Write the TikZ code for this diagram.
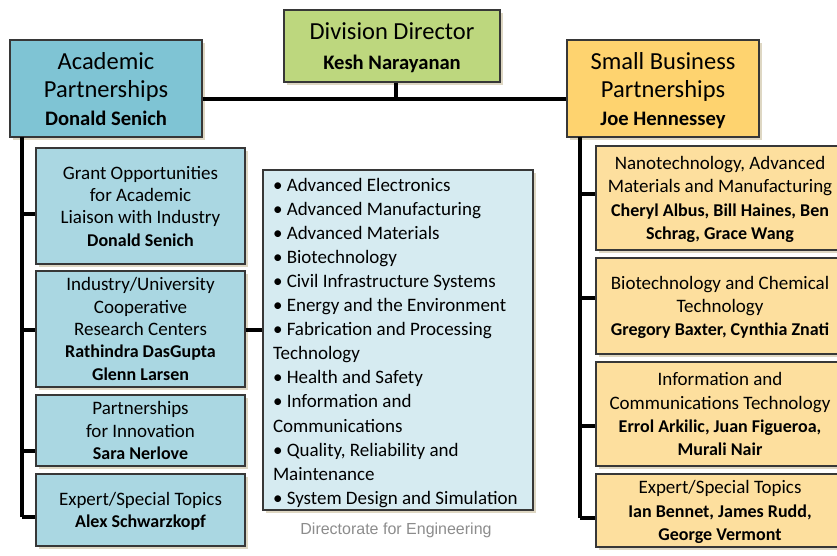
\documentclass[tikz,border=0pt]{standalone}
\usepackage{fontspec}
\setmainfont{Carlito}
\newfontfamily\capfont{Liberation Sans}
\usetikzlibrary{calc}

\definecolor{dirgreen}{RGB}{189,215,126}
\definecolor{acadblue}{RGB}{127,196,212}
\definecolor{acadsub}{RGB}{170,215,226}
\definecolor{listblue}{RGB}{214,235,241}
\definecolor{sbizgold}{RGB}{254,211,111}
\definecolor{sbizsub}{RGB}{253,223,158}
\definecolor{shadebeige}{RGB}{222,215,195}
\definecolor{boxline}{RGB}{55,55,55}
\definecolor{capgray}{RGB}{140,140,140}

\tikzset{
  box/.style={draw=boxline, line width=1.2pt, align=center, inner sep=2pt,
    text depth=0pt,
    preaction={fill=shadebeige, transform canvas={shift={(3pt,-3pt)}}}},
  headbox/.style={box, minimum width=192pt, minimum height=97pt,
    font=\fontsize{24.5}{28}\selectfont},
  acadbox/.style={box, fill=acadsub, minimum width=209pt,
    font=\fontsize{19}{22.3}\selectfont},
  sbizbox/.style={box, fill=sbizsub, minimum width=248pt,
    font=\fontsize{19}{23.2}\selectfont},
  conn/.style={line width=4pt},
}
\newcommand{\who}[1]{{\fontsize{20.6}{24}\selectfont\bfseries #1}}
\newcommand{\subwho}[1]{{\fontsize{18}{21}\selectfont\bfseries #1}}

\begin{document}
\begin{tikzpicture}[x=1pt, y=-1pt]
\useasboundingbox (0,0) rectangle (837,556);

% head boxes
\node[box, fill=dirgreen, minimum width=216pt, minimum height=72pt,
  font=\fontsize{24.5}{30}\selectfont] (dir) at (392,46)
  {Division Director\\\who{Kesh Narayanan}};
\node[headbox, fill=acadblue] (acad) at (106,88.5)
  {Academic\\Partnerships\\\who{Donald Senich}};
\node[headbox, fill=sbizgold] (sbiz) at (663,88.5)
  {Small Business\\Partnerships\\\who{Joe Hennessey}};

% academic side
\node[acadbox, minimum height=116pt] (g1) at (140.5,206)
  {Grant Opportunities\\for Academic\\Liaison with Industry\\\subwho{Donald Senich}};
\node[acadbox, minimum height=116pt] (g2) at (140.5,329)
  {Industry/University\\Cooperative\\Research Centers\\\subwho{Rathindra DasGupta}\\\subwho{Glenn Larsen}};
\node[acadbox, minimum height=71pt] (g3) at (140.5,430.5)
  {Partnerships\\for Innovation\\\subwho{Sara Nerlove}};
\node[acadbox, minimum height=72pt] (g4) at (140.5,510)
  {Expert/Special Topics\\\subwho{Alex Schwarzkopf}};

% topics list
\node[box, fill=listblue, minimum width=270pt, minimum height=340pt,
  text width=250pt, inner xsep=10pt, align=flush left, text depth=311pt,
  font=\fontsize{19}{24.1}\selectfont] (topics) at (398,340)
  {• Advanced Electronics\\
   • Advanced Manufacturing\\
   • Advanced Materials\\
   • Biotechnology\\
   • Civil Infrastructure Systems\\
   • Energy and the Environment\\
   • Fabrication and Processing\\
   Technology\\
   • Health and Safety\\
   • Information and\\
   Communications\\
   • Quality, Reliability and\\
   Maintenance\\
   • System Design and Simulation};
\node[font=\capfont\fontsize{16}{18}\selectfont, text=capgray] (dirname) at (396,530)
  {Directorate for Engineering};

% small business side
\node[sbizbox, minimum height=104pt] (s1) at (720,198)
  {Nanotechnology, Advanced\\Materials and Manufacturing\\\subwho{Cheryl Albus, Bill Haines, Ben}\\\subwho{Schrag, Grace Wang}};
\node[sbizbox, minimum height=96pt] (s2) at (720,306)
  {Biotechnology and Chemical\\Technology\\\subwho{Gregory Baxter, Cynthia Znati}};
\node[sbizbox, minimum height=104pt] (s3) at (720,414)
  {Information and\\Communications Technology\\\subwho{Errol Arkilic, Juan Figueroa,}\\\subwho{Murali Nair}};
\node[sbizbox, minimum height=73pt] (s4) at (720,510.5)
  {Expert/Special Topics\\\subwho{Ian Bennet, James Rudd,}\\\subwho{George Vermont}};

% connectors
\coordinate (lspine) at (22,137);
\coordinate (rspine) at (580,137);
\coordinate (bar) at (396,99);
\draw[conn] (dir.south -| bar) -- (bar);
\draw[conn] (acad.east |- bar) -- (sbiz.west |- bar);
\draw[conn] (lspine) -- (lspine |- 0,517);
\draw[conn] (rspine) -- (rspine |- 0,518);
\foreach \b/\y in {g1/214, g2/330, g3/451, g4/517}
  \draw[conn] (lspine |- 0,\y) -- (\b.west |- 0,\y);
\foreach \b/\y in {s1/194, s2/298, s3/426, s4/518}
  \draw[conn] (rspine |- 0,\y) -- (\b.west |- 0,\y);
\draw[conn] (g2.east |- 0,330) -- (topics.west |- 0,330);
\end{tikzpicture}
\end{document}
